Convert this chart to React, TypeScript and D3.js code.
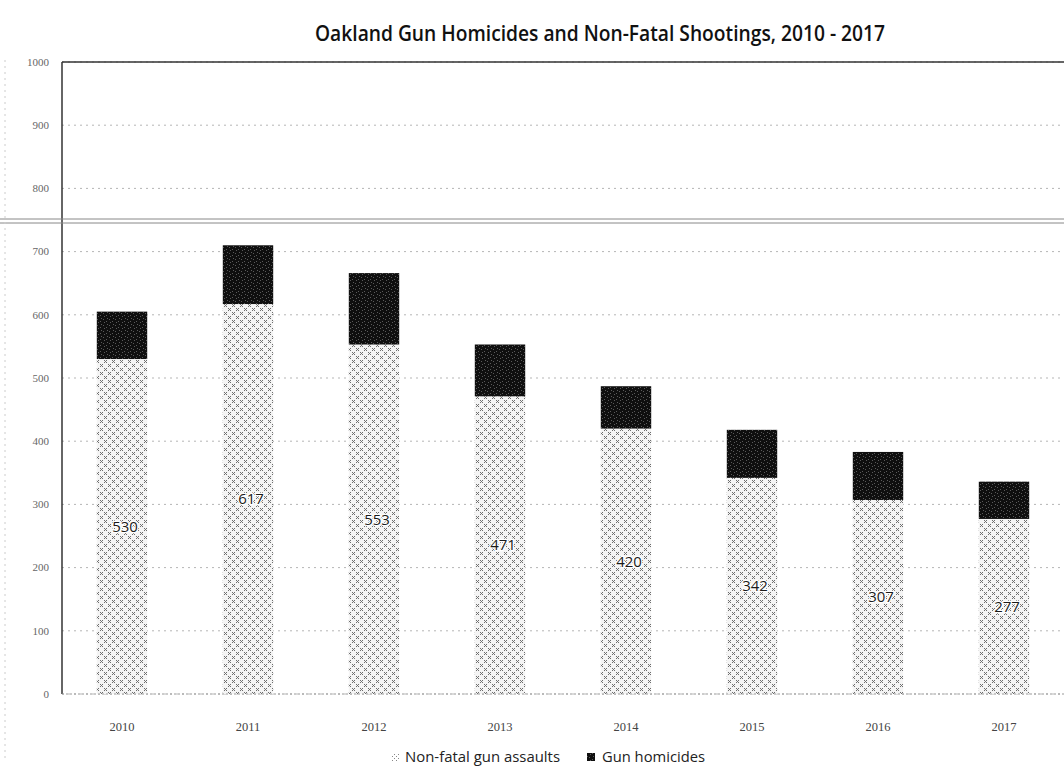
import React from 'react';
import * as d3 from 'd3';

const years = ['2010', '2011', '2012', '2013', '2014', '2015', '2016', '2017'];
const nonFatal = [530, 617, 553, 471, 420, 342, 307, 277];
const gunHomicides = [75, 93, 113, 82, 67, 76, 76, 59];
const yTicks = [0, 100, 200, 300, 400, 500, 600, 700, 800, 900, 1000];
const legendLabels = ['Non-fatal gun assaults', 'Gun homicides'];
const title = 'Oakland Gun Homicides and Non-Fatal Shootings, 2010 - 2017';

export default function App() {
  const W = 1064;
  const H = 777;
  const x = d3.scaleBand<string>().domain(years).range([59, 1067]).paddingInner(0.6).paddingOuter(0.3);
  const y = d3.scaleLinear().domain([0, 1000]).range([694, 62]);
  const bw = x.bandwidth();
  const sans = "'Open Sans', 'Noto Sans', sans-serif";
  const serif = "'Liberation Serif', 'DejaVu Serif', serif";

  const lightDots = [
    [0, 0], [2, 0], [1, 1], [0, 2], [2, 2],
    [4, 4], [6, 4], [5, 5], [4, 6], [6, 6],
  ];

  return (
    <svg width={W} height={H} viewBox={`0 0 ${W} ${H}`} style={{ position: 'absolute', left: 0, top: 0, background: '#fff' }}>
      <defs>
        <pattern id="light" width="8" height="8" patternUnits="userSpaceOnUse">
          <rect width="8" height="8" fill="#f4f4f4" />
          {lightDots.map(([px, py], i) => (
            <rect key={i} x={px} y={py} width="1" height="1" fill="#6e6e6e" />
          ))}
        </pattern>
        <pattern id="dark" width="6" height="6" patternUnits="userSpaceOnUse">
          <rect width="6" height="6" fill="#0f0f0f" />
          {[[1, 1], [4, 3], [2, 4], [5, 0]].map(([px, py], i) => (
            <rect key={i} x={px} y={py} width="1" height="1" fill="#5a5a5a" />
          ))}
        </pattern>
        <pattern id="lightLeg" width="4" height="4" patternUnits="userSpaceOnUse">
          <rect width="4" height="4" fill="#fff" />
          <rect x="0" y="0" width="1" height="1" fill="#888" />
          <rect x="2" y="2" width="1" height="1" fill="#888" />
        </pattern>
      </defs>

      <text x={315} y={41} textLength={570} lengthAdjust="spacingAndGlyphs" fontFamily={sans} fontWeight={600} fontSize={21} fill="#111">
        {title}
      </text>

      {/* gridlines */}
      {yTicks.map((t) => (
        <line key={t} x1={62} x2={W} y1={y(t)} y2={y(t)} stroke="#b5b5b5" strokeWidth={1} strokeDasharray="2 4" />
      ))}
      {/* top border */}
      <line x1={62} x2={W} y1={y(1000)} y2={y(1000)} stroke="#333" strokeWidth={1.5} />
      {/* left axis */}
      <line x1={62} x2={62} y1={y(1000)} y2={y(0)} stroke="#333" strokeWidth={1.5} />

      {/* scan seam */}
      <line x1={0} x2={W} y1={219} y2={219} stroke="#888" strokeWidth={1} />
      <line x1={0} x2={W} y1={223} y2={223} stroke="#888" strokeWidth={1} />
      <line x1={5} x2={5} y1={60} y2={760} stroke="#ccc" strokeWidth={1} strokeDasharray="2 4" />

      {/* y tick labels */}
      {yTicks.map((t) => (
        <text key={t} x={49} y={y(t)} dy="0.35em" textAnchor="end" fontFamily={serif} fontSize={11} fill="#666">
          {t}
        </text>
      ))}

      {/* bars */}
      {years.map((yr, i) => {
        const x0 = x(yr) as number;
        const nf = nonFatal[i];
        const gh = gunHomicides[i];
        return (
          <g key={yr}>
            <rect x={x0} y={y(nf)} width={bw} height={y(0) - y(nf)} fill="url(#light)" />
            <rect x={x0} y={y(nf + gh)} width={bw} height={y(nf) - y(nf + gh)} fill="url(#dark)" />
            <text x={x0 + bw / 2 + 3} y={y(nf / 2)} dy="0.35em" textAnchor="middle" fontFamily={sans} fontWeight={500} fontSize={15} fill="#1a1a1a"
              stroke="#fff" strokeWidth={2.5} paintOrder="stroke">
              {nf}
            </text>
          </g>
        );
      })}

      {/* x axis */}
      <line x1={62} x2={W} y1={y(0)} y2={y(0)} stroke="#999" strokeWidth={1} strokeDasharray="2 2" />
      {years.map((yr) => (
        <text key={yr} x={(x(yr) as number) + bw / 2} y={727} dy="0.35em" textAnchor="middle" fontFamily={serif} fontSize={12.5} fill="#444">
          {yr}
        </text>
      ))}

      {/* legend */}
      <rect x={391} y={753} width={8} height={8} fill="url(#lightLeg)" />
      <text x={405} y={757} dy="0.35em" textLength={155} lengthAdjust="spacingAndGlyphs" fontFamily={sans} fontSize={14} fill="#222">
        {legendLabels[0]}
      </text>
      <rect x={587} y={753} width={8} height={8} fill="url(#dark)" />
      <text x={602} y={757} dy="0.35em" textLength={103} lengthAdjust="spacingAndGlyphs" fontFamily={sans} fontSize={14} fill="#222">
        {legendLabels[1]}
      </text>
    </svg>
  );
}
